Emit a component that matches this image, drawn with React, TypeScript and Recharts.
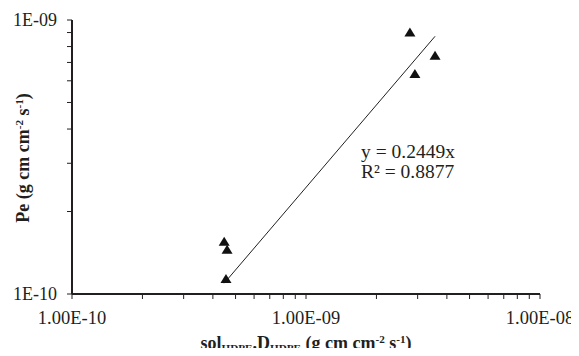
import React from 'react';
import { ScatterChart, Scatter, XAxis, YAxis } from 'recharts';

const permeanceX = [4.47e-10, 4.6e-10, 4.55e-10, 2.78e-9, 3.56e-9, 2.92e-9];
const permeanceY = [1.55e-10, 1.45e-10, 1.135e-10, 9.0e-10, 7.4e-10, 6.35e-10];

// Trend line y = slope * x
const trendSlope = 0.2449;
const trendR2 = 0.8877;

const xTicks = [
  1e-10, 2e-10, 3e-10, 4e-10, 5e-10, 6e-10, 7e-10, 8e-10, 9e-10,
  1e-9, 2e-9, 3e-9, 4e-9, 5e-9, 6e-9, 7e-9, 8e-9, 9e-9, 1e-8,
];
const xMajorTicks = [1e-10, 1e-9, 1e-8];
const xTickLabels = ['1.00E-10', '1.00E-09', '1.00E-08'];

const yTicks = [1e-10, 2e-10, 3e-10, 4e-10, 5e-10, 6e-10, 7e-10, 8e-10, 9e-10, 1e-9];
const yMajorTicks = [1e-10, 1e-9];
const yTickLabels = ['1E-10', '1E-09'];

const pointData = permeanceX.map((x, i) => ({ x, y: permeanceY[i] }));
const xMin = Math.min(...permeanceX);
const xMax = Math.max(...permeanceX);
const trendData = [
  { x: xMin, y: trendSlope * xMin },
  { x: xMax, y: trendSlope * xMax },
];

const near = (a: number, b: number) => Math.abs(a / b - 1) < 1e-6;
const labelFor = (majors: number[], labels: string[], v: number) => {
  const i = majors.findIndex((m) => near(v, m));
  return i >= 0 ? labels[i] : '';
};

const INK = '#231f20';
const FONT = '"Liberation Serif", "Times New Roman", serif';

const XTick = (props: any) => {
  const { x, y, payload } = props;
  const label = labelFor(xMajorTicks, xTickLabels, payload.value);
  if (!label) return <g />;
  return (
    <text x={x} y={y} dy="0.71em" textAnchor="middle" fill={INK} fontSize={18.5} fontFamily={FONT}>
      {label}
    </text>
  );
};

const YTick = (props: any) => {
  const { x, y, payload } = props;
  const label = labelFor(yMajorTicks, yTickLabels, payload.value);
  if (!label) return <g />;
  return (
    <text x={x} y={y} dy="0.355em" textAnchor="end" fill={INK} fontSize={18} fontFamily={FONT}>
      {label}
    </text>
  );
};

const Triangle = (props: any) => {
  const { cx, cy } = props;
  if (cx == null || cy == null) return <g />;
  return (
    <polygon
      points={`${cx},${cy - 5} ${cx - 5.5},${cy + 4} ${cx + 5.5},${cy + 4}`}
      fill="#111"
    />
  );
};

const Empty = () => <g />;

const subStyle: React.CSSProperties = { fontSize: '0.62em', position: 'relative', top: '0.3em', lineHeight: 0 };
const supStyle: React.CSSProperties = { fontSize: '0.62em', position: 'relative', top: '-0.55em', lineHeight: 0 };

export default function App() {
  return (
    <div style={{ position: 'relative', width: 571, height: 340, fontFamily: FONT, color: INK }}>
      <ScatterChart width={571} height={340} margin={{ top: 12, right: 39, bottom: 0, left: 0 }}>
        <XAxis
          type="number"
          dataKey="x"
          scale="log"
          domain={[1e-10, 1e-8]}
          allowDataOverflow
          ticks={xTicks}
          interval={0}
          height={54}
          tickSize={5}
          tickMargin={12}
          axisLine={{ stroke: INK, strokeWidth: 2 }}
          tickLine={{ stroke: INK, strokeWidth: 1 }}
          tick={<XTick />}
        />
        <YAxis
          type="number"
          dataKey="y"
          scale="log"
          domain={[1e-10, 1e-9]}
          allowDataOverflow
          ticks={yTicks}
          interval={0}
          width={64}
          tickSize={5}
          tickMargin={10}
          axisLine={{ stroke: INK, strokeWidth: 2 }}
          tickLine={{ stroke: INK, strokeWidth: 1 }}
          tick={<YTick />}
        />
        <Scatter
          data={trendData}
          line={{ stroke: INK, strokeWidth: 1 }}
          shape={Empty}
          isAnimationActive={false}
        />
        <Scatter data={pointData} shape={Triangle} isAnimationActive={false} />
      </ScatterChart>

      <div
        style={{
          position: 'absolute',
          left: 15,
          top: 150,
          transform: 'translate(-50%, -50%) rotate(-90deg)',
          whiteSpace: 'nowrap',
          fontWeight: 'bold',
          fontSize: 18,
          lineHeight: '20px',
        }}
      >
        Pe (g cm cm<span style={supStyle}>-2</span> s<span style={supStyle}>-1</span>)
      </div>

      <div
        style={{
          position: 'absolute',
          left: 298,
          top: 335,
          transform: 'translate(-50%, -50%)',
          whiteSpace: 'nowrap',
          fontWeight: 'bold',
          fontSize: 18,
          lineHeight: '20px',
        }}
      >
        sol<span style={subStyle}>HDPE</span>.D<span style={subStyle}>HDPE</span> (g cm cm
        <span style={supStyle}>-2</span> s<span style={supStyle}>-1</span>)
      </div>

      <div
        style={{
          position: 'absolute',
          left: 353,
          top: 134,
          whiteSpace: 'nowrap',
          fontSize: 19.5,
          lineHeight: '20px',
        }}
      >
        <div>y = {trendSlope}x</div>
        <div>R² = {trendR2}</div>
      </div>
    </div>
  );
}
